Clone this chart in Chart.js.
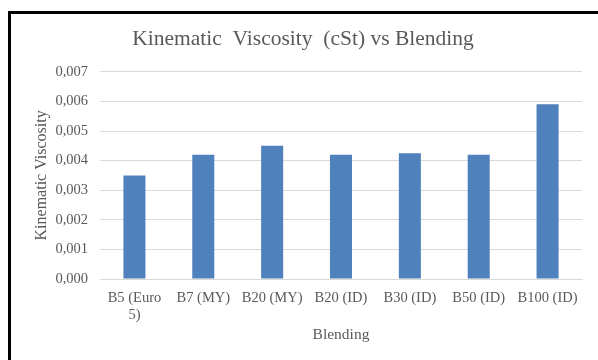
<!DOCTYPE html>
<html>
<head>
<meta charset="utf-8">
<title>Kinematic Viscosity (cSt) vs Blending</title>
<script src="https://cdn.jsdelivr.net/npm/chart.js@4.4.1/dist/chart.umd.min.js"></script>
<style>
    html, body { margin: 0; padding: 0; background: #ffffff; overflow: hidden; }
    #moldura {
        position: absolute;
        left: 8px;
        top: 11px;
        width: 620px;
        height: 380px;
        border-top: 3px solid #000000;
        border-left: 3px solid #000000;
    }
    #viscosidadeChart { position: absolute; left: 0; top: 0; }
</style>
</head>
<body>
<div id="moldura"></div>
<canvas id="viscosidadeChart" width="598" height="360"></canvas>

<script>
// =================== DADOS ===================
const blends = [['B5 (Euro', '5)'], 'B7 (MY)', 'B20 (MY)', 'B20 (ID)', 'B30 (ID)', 'B50 (ID)', 'B100 (ID)'];
const viscosidade = [0.0035, 0.0042, 0.0045, 0.0042, 0.00425, 0.0042, 0.0059];
const eixoY = { min: 0, max: 0.007, passo: 0.001 };

const corTexto = '#595959';
const corGrade = '#D9D9D9';
const corBarra = '#4F81BD';
const fonteSerif = '"Liberation Serif", "Times New Roman", serif';

document.addEventListener('DOMContentLoaded', () => {
    criarGraficoViscosidade();
});

// =================== GRÁFICO DE VISCOSIDADE ===================
function criarGraficoViscosidade() {
    const ctx = document.getElementById('viscosidadeChart');
    if (!ctx) {
        console.error("Canvas 'viscosidadeChart' não encontrado.");
        return null;
    }

    // formato 0,000 (vírgula decimal)
    const formatar = (v) => Number(v).toFixed(3).replace('.', ',');

    return new Chart(ctx, {
        type: 'bar',
        data: {
            labels: blends,
            datasets: [{
                label: 'Kinematic Viscosity',
                data: viscosidade,
                backgroundColor: corBarra,
                borderWidth: 0,
                categoryPercentage: 1.0,
                barPercentage: 0.32
            }]
        },
        options: {
            responsive: false,
            animation: false,
            layout: {
                padding: { top: 14, right: 16, bottom: 0, left: 24 }
            },
            plugins: {
                legend: { display: false },
                tooltip: { enabled: false },
                title: {
                    display: true,
                    text: 'Kinematic  Viscosity  (cSt) vs Blending',
                    color: corTexto,
                    font: { family: fonteSerif, size: 21.5, weight: 'normal' },
                    padding: { top: 12, bottom: 20 }
                }
            },
            scales: {
                x: {
                    grid: { display: false, drawTicks: false },
                    border: { display: true, color: corGrade, width: 1 },
                    ticks: {
                        color: corTexto,
                        font: { family: fonteSerif, size: 14.5, lineHeight: 1.15 },
                        padding: 11,
                        maxRotation: 0,
                        minRotation: 0,
                        autoSkip: false
                    },
                    title: {
                        display: true,
                        text: 'Blending',
                        color: corTexto,
                        font: { family: fonteSerif, size: 15.5 },
                        padding: { top: 0, bottom: 16 }
                    },
                    afterFit: (scale) => { scale.height = 81; }
                },
                y: {
                    min: eixoY.min,
                    max: eixoY.max,
                    grid: { color: corGrade, lineWidth: 1, drawTicks: false },
                    border: { display: false },
                    ticks: {
                        stepSize: eixoY.passo,
                        color: corTexto,
                        font: { family: fonteSerif, size: 14.5 },
                        padding: 12,
                        callback: (valor) => formatar(valor)
                    },
                    title: {
                        display: true,
                        text: 'Kinematic Viscosity',
                        color: corTexto,
                        font: { family: fonteSerif, size: 16 },
                        padding: { top: 8, bottom: 0 }
                    },
                    afterFit: (scale) => { scale.width = 76; }
                }
            }
        }
    });
}
</script>
</body>
</html>
